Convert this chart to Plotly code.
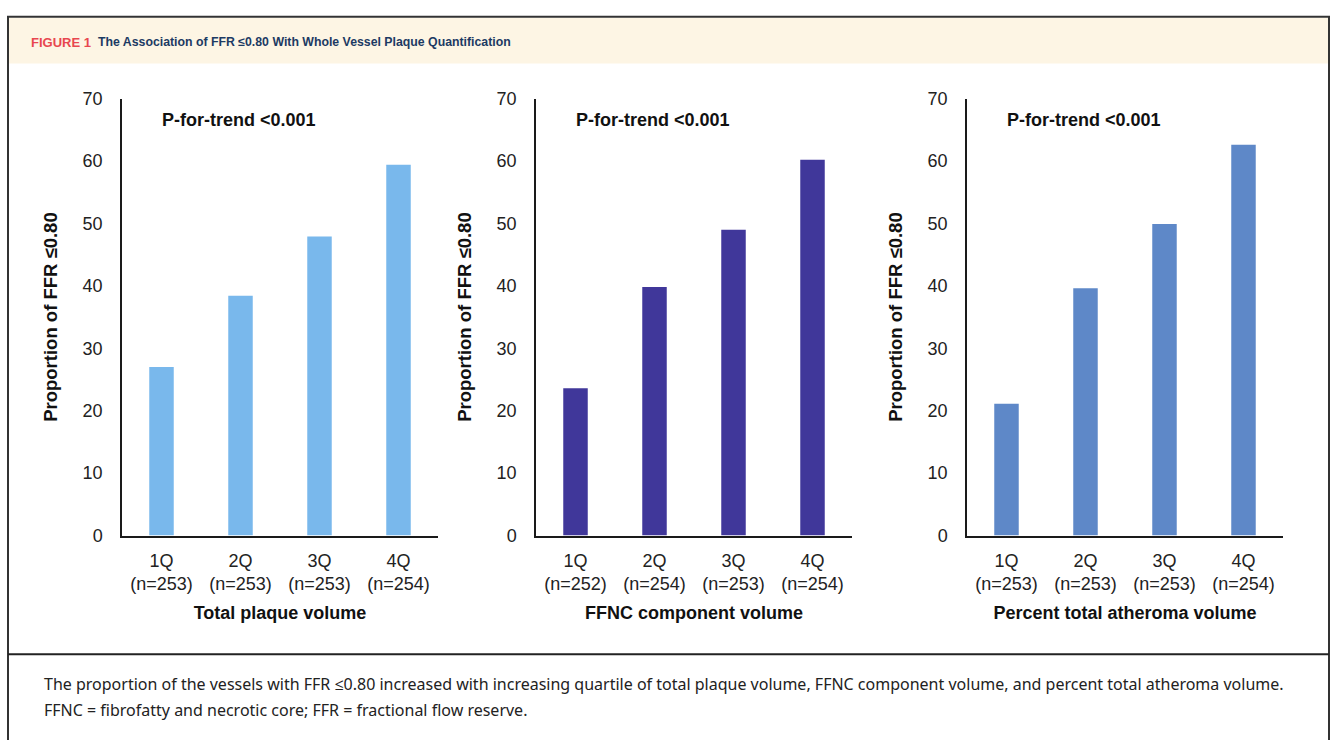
import plotly.graph_objects as go

W, H = 1335, 750

quartiles = ["1Q", "2Q", "3Q", "4Q"]
n_tpv = [253, 253, 253, 254]
n_ffnc = [252, 254, 253, 254]
n_pav = [253, 253, 253, 254]
prop_tpv = [27.0, 38.4, 47.9, 59.4]
prop_ffnc = [23.6, 39.8, 49.0, 60.2]
prop_pav = [21.1, 39.6, 49.9, 62.6]
x_titles = ["Total plaque volume", "FFNC component volume", "Percent total atheroma volume"]
y_title = "Proportion of FFR ≤0.80"
y_ticks = [0, 10, 20, 30, 40, 50, 60, 70]
p_text = "P-for-trend <0.001"
fig_label = "FIGURE 1"
fig_title = "The Association of FFR ≤0.80 With Whole Vessel Plaque Quantification"
caption_1 = ("The proportion of the vessels with FFR ≤0.80 increased with increasing quartile of total plaque volume, "
             "FFNC component volume, and percent total atheroma volume.")
caption_2 = "FFNC = fibrofatty and necrotic core; FFR = fractional flow reserve."

colors = ["#79B8EC", "#40379A", "#5E88C8"]
series = [(prop_tpv, n_tpv), (prop_ffnc, n_ffnc), (prop_pav, n_pav)]

AX = "Liberation Sans, Arial, sans-serif"

def px(x):
    return x / W

def py(y):
    return 1 - y / H

x_domains = [(122, 438), (536, 852), (967, 1283)]
y_dom = [py(540), py(91)]

fig = go.Figure()
for i, ((vals, ns), col) in enumerate(zip(series, colors)):
    k = "" if i == 0 else str(i + 1)
    fig.add_trace(go.Bar(x=quartiles, y=vals, marker=dict(color=col, line=dict(width=0)),
                         xaxis="x" + k, yaxis="y" + k, showlegend=False, width=0.31))
    ticktext = [f"{q}<br>(n={n})" for q, n in zip(quartiles, ns)]
    d0, d1 = x_domains[i]
    fig.layout["xaxis" + k] = dict(
        domain=[px(d0), px(d1)], anchor="y" + k, type="category", range=[-0.5, 3.5],
        showline=True, linecolor="#1a1a1a", linewidth=1.5, ticks="", showgrid=False,
        tickmode="array", tickvals=quartiles, ticktext=ticktext,
        tickfont=dict(family=AX, size=18, color="#222"), ticklabelstandoff=8,
        title=dict(text="<b>" + x_titles[i] + "</b>", font=dict(family=AX, size=18, color="#111"), standoff=13),
    )
    fig.layout["yaxis" + k] = dict(
        domain=y_dom, anchor="x" + k, range=[0, 70], tickvals=y_ticks,
        showline=True, linecolor="#1a1a1a", linewidth=1.5, ticks="", showgrid=False, zeroline=False,
        tickfont=dict(family=AX, size=18, color="#222"), ticklabelstandoff=14,
        title=dict(text="<b>" + y_title + "</b>", font=dict(family=AX, size=18.5, color="#111"), standoff=20),
    )
    fig.add_annotation(text="<b>" + p_text + "</b>", xref="x" + k + " domain", yref="paper",
                       x=0.12, y=py(113), xanchor="left", yanchor="middle", showarrow=False,
                       font=dict(family=AX, size=18, color="#111"))

shapes = [
    dict(type="rect", xref="paper", yref="paper", x0=px(8), x1=px(1329), y0=py(55), y1=py(8),
         fillcolor="#FDF5E4", line=dict(width=0), layer="below"),
    dict(type="line", xref="paper", yref="paper", x0=px(7), x1=px(1330), y0=py(7), y1=py(7),
         line=dict(color="#333", width=2)),
    dict(type="line", xref="paper", yref="paper", x0=px(8), x1=px(8), y0=py(7), y1=0,
         line=dict(color="#333", width=2)),
    dict(type="line", xref="paper", yref="paper", x0=px(1329), x1=px(1329), y0=py(7), y1=0,
         line=dict(color="#333", width=2)),
    dict(type="line", xref="paper", yref="paper", x0=px(8), x1=px(1329), y0=py(662), y1=py(662),
         line=dict(color="#222", width=2)),
]
fig.update_layout(shapes=shapes)

fig.add_annotation(text="<b>" + fig_label + "</b>", xref="paper", yref="paper", x=px(29), y=py(33),
                   xanchor="left", yanchor="middle", showarrow=False,
                   font=dict(family=AX, size=13, color="#E8474F"))
fig.add_annotation(text="<b>" + fig_title + "</b>", xref="paper", yref="paper", x=px(96), y=py(33),
                   xanchor="left", yanchor="middle", showarrow=False,
                   font=dict(family=AX, size=12.3, color="#1C3A63"))
for txt, yy in [(caption_1, 692), (caption_2, 719)]:
    fig.add_annotation(text=txt, xref="paper", yref="paper", x=px(42), y=py(yy),
                       xanchor="left", yanchor="middle", showarrow=False,
                       font=dict(family="Noto Sans, Open Sans, sans-serif", size=16, color="#222"))

fig.update_layout(width=W, height=H, margin=dict(l=0, r=0, t=0, b=0),
                  paper_bgcolor="white", plot_bgcolor="rgba(0,0,0,0)", bargap=0.69)

fig.write_html("out.html")
